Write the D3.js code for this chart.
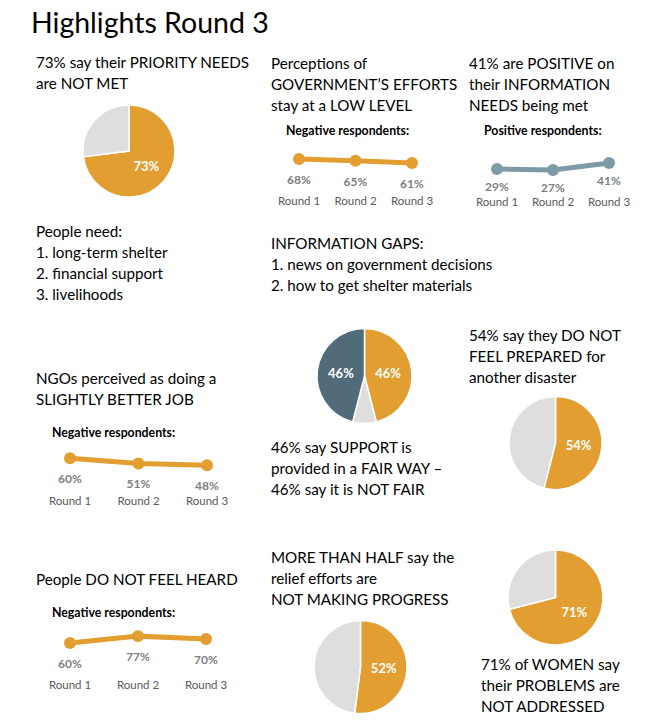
<!DOCTYPE html>
<html><head><meta charset="utf-8">
<script src="https://cdn.jsdelivr.net/npm/d3@7"></script>
<style>
html,body{margin:0;padding:0;background:#fff;}
svg{display:block;font-family:Lato,"Noto Sans",sans-serif;}
</style></head>
<body>
<svg id="chart" width="672" height="727"></svg>
<script>
// ---------- DATA ----------
const rounds = ["Round 1", "Round 2", "Round 3"];
const govNegative = [68, 65, 61];
const infoPositive = [29, 27, 41];
const ngoNegative = [60, 51, 48];
const heardNegative = [60, 77, 70];

const priorityNotMet = [73, 27];
const supportFairness = [46, 8, 46];   // fair, other, not fair
const notPrepared = [54, 46];
const notProgress = [52, 48];
const womenNotAddressed = [71, 29];

const title = "Highlights Round 3";
const txtPriority = ["73% say their PRIORITY NEEDS", "are NOT MET"];
const txtGov = ["Perceptions of", "GOVERNMENT\u2019S EFFORTS", "stay at a LOW LEVEL"];
const txtInfo = ["41% are POSITIVE on", "their INFORMATION", "NEEDS being met"];
const txtNeeds = ["People need:", "1. long-term shelter", "2. financial support", "3. livelihoods"];
const txtGaps = ["INFORMATION GAPS:", "1. news on government decisions", "2. how to get shelter materials"];
const txtPrepared = ["54% say they DO NOT", "FEEL PREPARED for", "another disaster"];
const txtNgo = ["NGOs perceived as doing a", "SLIGHTLY BETTER JOB"];
const txtSupport = ["46% say SUPPORT is", "provided in a FAIR WAY \u2013", "46% say it is NOT FAIR"];
const txtHeard = ["People DO NOT FEEL HEARD"];
const txtProgress = ["MORE THAN HALF say the", "relief efforts are", "NOT MAKING PROGRESS"];
const txtWomen = ["71% of WOMEN say", "their PROBLEMS are", "NOT ADDRESSED"];
const negLabel = "Negative respondents:";
const posLabel = "Positive respondents:";

// ---------- STYLE ----------
const ORANGE = "#E39E32", LIGHT = "#DEDEDE", SLATE = "#7E9AA7", DARK = "#526B7A";
const svg = d3.select("#chart");

svg.append("text").attr("x", 31).attr("y", 33)
  .attr("font-size", 28.5).attr("fill", "#000").text(title);

function textBlock(lines, x, y, lh = 21, size = 15.2) {
  const t = svg.append("text").attr("x", x).attr("y", y)
    .attr("font-size", size).attr("fill", "#000");
  t.selectAll("tspan").data(lines).join("tspan")
    .attr("x", x).attr("dy", (d, i) => i === 0 ? 0 : lh).text(d => d);
}

textBlock(txtPriority, 36, 68);
textBlock(txtGov, 271, 69);
textBlock(txtInfo, 469, 69);
textBlock(txtNeeds, 36, 237);
textBlock(txtGaps, 271, 249);
textBlock(txtPrepared, 469, 341);
textBlock(txtNgo, 36, 384);
textBlock(txtSupport, 271, 453);
textBlock(txtHeard, 36, 585);
textBlock(txtProgress, 271, 563);
textBlock(txtWomen, 481, 670);

// ---------- LINE CHARTS ----------
function lineChart(values, cfg) {
  const g = svg.append("g");
  const x = d3.scalePoint().domain(rounds).range(cfg.xr);
  const y = d3.scaleLinear().domain([0, 100]).range([cfg.base, cfg.base - cfg.k]);
  g.append("text").attr("x", cfg.tx).attr("y", cfg.ty)
    .attr("font-size", 12.3).attr("font-weight", 700).attr("fill", "#000").text(cfg.label);
  const pts = rounds.map((r, i) => ({ r, v: values[i] }));
  g.append("path").datum(pts)
    .attr("d", d3.line().x(d => x(d.r)).y(d => y(d.v)))
    .attr("fill", "none").attr("stroke", cfg.color).attr("stroke-width", 5);
  g.selectAll("circle").data(pts).join("circle")
    .attr("cx", d => x(d.r)).attr("cy", d => y(d.v)).attr("r", 6).attr("fill", cfg.color);
  g.selectAll(".val").data(pts).join("text").attr("class", "val")
    .attr("x", d => x(d.r)).attr("y", d => y(d.v) + cfg.off)
    .attr("text-anchor", "middle").attr("font-size", 12).attr("font-weight", 700)
    .attr("fill", "#808080").text(d => d.v + "%");
  g.selectAll(".rnd").data(pts).join("text").attr("class", "rnd")
    .attr("x", d => x(d.r)).attr("y", cfg.ry)
    .attr("text-anchor", "middle").attr("font-size", 11.5).attr("fill", "#595959").text(d => d.r);
}

lineChart(govNegative, { xr: [299, 412], base: 197.8, k: 57, off: 25, tx: 286, ty: 135, ry: 205, label: negLabel, color: ORANGE });
lineChart(infoPositive, { xr: [497, 609], base: 183.5, k: 50, off: 21.5, tx: 484, ty: 135, ry: 206, label: posLabel, color: SLATE });
lineChart(ngoNegative, { xr: [70, 207], base: 493, k: 58, off: 25, tx: 52, ty: 437, ry: 505, label: negLabel, color: ORANGE });
lineChart(heardNegative, { xr: [70, 206], base: 667.7, k: 41, off: 25, tx: 52, ty: 617, ry: 689, label: negLabel, color: ORANGE });

// ---------- PIES ----------
function pieChart(values, colors, cx, cy, r, labelIdx) {
  const g = svg.append("g").attr("transform", `translate(${cx},${cy})`);
  const arcs = d3.pie().sort(null)(values);
  const arc = d3.arc().innerRadius(0).outerRadius(r);
  g.selectAll("path").data(arcs).join("path")
    .attr("d", arc).attr("fill", (d, i) => colors[i])
    .attr("stroke", "#fff").attr("stroke-width", 1.5);
  g.selectAll("text").data(arcs.filter((d, i) => labelIdx.includes(i))).join("text")
    .attr("transform", d => `translate(${arc.centroid(d)})`)
    .attr("text-anchor", "middle").attr("dy", "0.35em")
    .attr("font-size", 13).attr("font-weight", 700).attr("fill", "#fff")
    .text(d => d.value + "%");
}

pieChart(priorityNotMet, [ORANGE, LIGHT], 129, 151, 46, [0]);
pieChart(supportFairness, [ORANGE, LIGHT, DARK], 364.5, 376, 47.5, [0, 2]);
pieChart(notPrepared, [ORANGE, LIGHT], 555.5, 443, 46.5, [0]);
pieChart(notProgress, [ORANGE, LIGHT], 360.5, 667, 46.5, [0]);
pieChart(womenNotAddressed, [ORANGE, LIGHT], 555.5, 597.5, 47.5, [0]);
</script>
</body></html>
